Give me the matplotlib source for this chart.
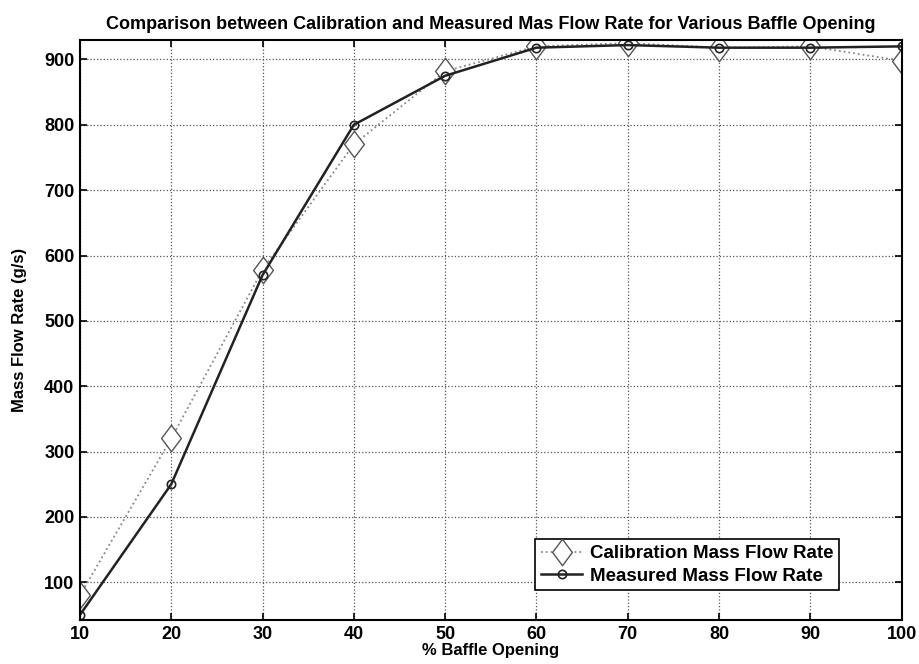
import matplotlib
matplotlib.use("Agg")
import matplotlib.pyplot as plt

opening = [10, 20, 30, 40, 50, 60, 70, 80, 90, 100]
calibration = [80, 320, 578, 770, 882, 920, 925, 918, 920, 898]
measured = [50, 250, 570, 800, 875, 918, 922, 918, 918, 920]
xticks = [10, 20, 30, 40, 50, 60, 70, 80, 90, 100]
yticks = [100, 200, 300, 400, 500, 600, 700, 800, 900]

plt.rcParams['font.family'] = ['Liberation Sans', 'DejaVu Sans']
plt.rcParams['font.weight'] = 'bold'

diamond = [(0, 1), (0.75, 0), (0, -1), (-0.75, 0), (0, 1)]

fig = plt.figure(figsize=(9.19, 6.64), dpi=100)
ax = fig.add_axes([0.087, 0.066, 0.894, 0.874])

ax.plot(opening, calibration, linestyle=':', color='#888888', linewidth=1.3,
        marker=diamond, markersize=19, markerfacecolor='white', markeredgecolor='#555555',
        markeredgewidth=1.0, label='Calibration Mass Flow Rate')
ax.plot(opening, measured, linestyle='-', color='#222222', linewidth=1.8,
        marker='o', markersize=6, markerfacecolor='none', markeredgecolor='#222222',
        markeredgewidth=1.2, label='Measured Mass Flow Rate')

ax.set_xlim(10, 100)
ax.set_ylim(42, 930)
ax.set_xticks(xticks)
ax.set_yticks(yticks)
ax.tick_params(direction='in', labelsize=13, width=1.2, length=5, top=True, right=True, pad=4)
for lbl in ax.get_xticklabels() + ax.get_yticklabels():
    lbl.set_fontweight('bold')
ax.grid(True, linestyle=':', color='#555555', linewidth=0.9)
for s in ax.spines.values():
    s.set_linewidth(1.5)

ax.set_title('Comparison between Calibration and Measured Mas Flow Rate for Various Baffle Opening',
             fontsize=13, fontweight='bold', pad=8)
ax.set_xlabel('% Baffle Opening', fontsize=12, fontweight='bold', labelpad=0)
ax.set_ylabel('Mass Flow Rate (g/s)', fontsize=12, fontweight='bold', labelpad=12)

leg = ax.legend(loc='lower right', bbox_to_anchor=(0.935, 0.035), fontsize=13.5,
                frameon=True, fancybox=False, edgecolor='black', framealpha=1,
                handlelength=2.2, borderpad=0.3, labelspacing=0.3, handletextpad=0.4)
leg.get_frame().set_linewidth(1.2)
for t in leg.get_texts():
    t.set_fontweight('bold')

fig.savefig('out.png', dpi=100)
